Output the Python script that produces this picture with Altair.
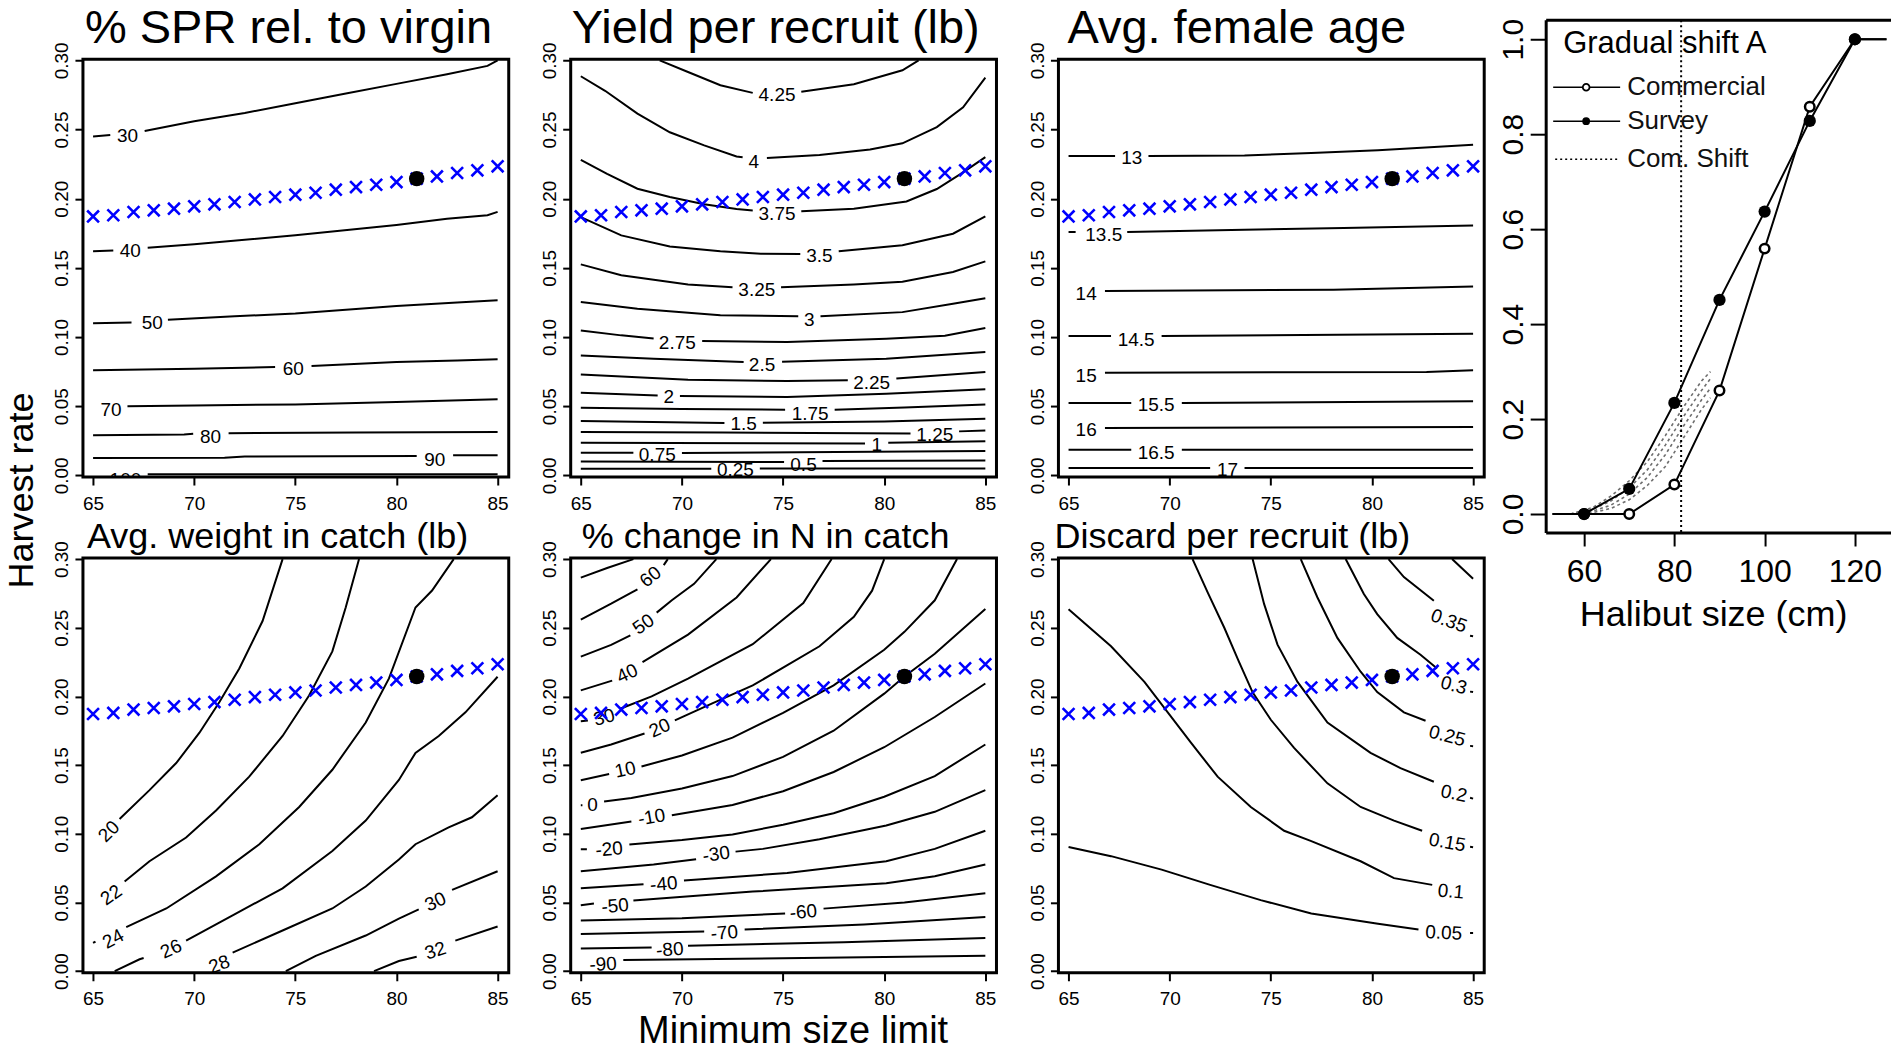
import altair as alt
import pandas as pd

FONT = "Liberation Sans"

# ---------------------------------------------------------------- shared data
PATH_SIZE = list(range(65, 86))
PATH_RATE = [0.1872, 0.1880, 0.1904, 0.1916, 0.1928, 0.1945, 0.1959, 0.1976,
             0.1995, 0.2012, 0.2029, 0.2043, 0.2065, 0.2084, 0.2101, 0.2120,
             0.2145, 0.2161, 0.2186, 0.2205, 0.2234]
STATUS_SIZE = [81]
STATUS_RATE = [0.2145]

X_TICKS = [65, 70, 75, 80, 85]
Y_TICKS = [0.0, 0.05, 0.10, 0.15, 0.20, 0.25, 0.30]

TITLES = ["% SPR rel. to virgin", "Yield per recruit (lb)", "Avg. female age",
          "Avg. weight in catch (lb)", "% change in N in catch", "Discard per recruit (lb)"]

# ---------------------------------------------------------------- contour lines (visible pieces)
SPR_LINES = {
    "30": [[(65, 0.245), (65.85, 0.246)],
           [(67.55, 0.249), (70, 0.256), (72.5, 0.262), (75, 0.269), (77.5, 0.276), (80, 0.283), (82.5, 0.290), (84.5, 0.296), (85, 0.300)]],
    "40": [[(65, 0.162), (66.0, 0.1625)],
           [(67.7, 0.1645), (70, 0.167), (75, 0.1735), (80, 0.181), (82.5, 0.1855), (84.5, 0.188), (85, 0.1905)]],
    "50": [[(65, 0.110), (66.9, 0.1105)],
           [(68.7, 0.1125), (72, 0.115), (75, 0.117), (80, 0.1225), (83, 0.125), (85, 0.1265)]],
    "60": [[(65, 0.076), (70, 0.077), (74.0, 0.0783)],
           [(75.8, 0.079), (80, 0.082), (83, 0.083), (85, 0.084)]],
    "70": [[(66.7, 0.0499), (70, 0.0505), (75, 0.0513), (80, 0.053), (85, 0.055)]],
    "80": [[(65, 0.029), (69.5, 0.0295), (69.95, 0.030)],
           [(71.7, 0.0305), (78, 0.031), (85, 0.0313)]],
    "90": [[(65, 0.0125), (71.5, 0.0128), (72.5, 0.0137), (81.0, 0.014)],
           [(82.8, 0.0145), (85, 0.0145)]],
    "100": [[(67.7, 0.0008), (85, 0.0008)]],
}
SPR_LABELS = [("30", 66.7, 0.245, 0), ("40", 66.84, 0.162, 0), ("50", 67.93, 0.110, 0),
              ("60", 74.9, 0.077, 0), ("70", 65.89, 0.0475, 0), ("80", 70.81, 0.0277, 0),
              ("90", 81.89, 0.0113, 0), ("100", 66.6, -0.003, 0)]

YIELD_LINES = {
    "4.25": [[(68.9, 0.30), (70.3, 0.2916), (71.9, 0.282), (73.5, 0.2765)],
             [(75.9, 0.2773), (78.5, 0.2827), (80.9, 0.2928), (81.7, 0.30)]],
    "4": [[(65, 0.2885), (66.2, 0.278), (67.8, 0.2615), (69.4, 0.248), (71.1, 0.2385), (72.7, 0.2305), (73.0, 0.230)],
          [(74.2, 0.2295), (76.8, 0.2315), (79.3, 0.2355), (80.9, 0.240), (82.6, 0.2518), (83.9, 0.266), (85, 0.2875)]],
    "3.75": [[(65, 0.228), (66.3, 0.218), (67.8, 0.2072), (69.4, 0.2012), (71.1, 0.196), (72.7, 0.1925), (73.5, 0.1915)],
             [(75.9, 0.191), (78.5, 0.1928), (81.1, 0.198), (82.6, 0.207), (83.9, 0.219), (85, 0.230)]],
    "3.5": [[(65, 0.1867), (67, 0.1735), (69.4, 0.1655), (71.9, 0.162), (73.9, 0.1602), (75.85, 0.160)],
            [(77.75, 0.162), (80.9, 0.1663), (83.4, 0.1747), (85, 0.1872)]],
    "3.25": [[(65, 0.1525), (67, 0.1446), (70.3, 0.138), (72.5, 0.136)],
             [(74.9, 0.136), (78.5, 0.138), (80.9, 0.140), (83.4, 0.147), (85, 0.1547)]],
    "3": [[(65, 0.1253), (67.8, 0.1205), (71.9, 0.1157), (75.75, 0.115)],
          [(76.85, 0.115), (80.9, 0.118), (83.4, 0.124), (85, 0.128)]],
    "2.75": [[(65, 0.1048), (67, 0.1012), (68.6, 0.099)],
             [(71.0, 0.0971), (75.2, 0.0964), (80.1, 0.0988), (83, 0.101), (85, 0.1065)]],
    "2.5": [[(65, 0.0867), (68.6, 0.0843), (73.05, 0.082)],
            [(74.95, 0.0822), (80.1, 0.0843), (85, 0.0892)]],
    "2.25": [[(65, 0.073), (70.3, 0.0692), (75.2, 0.0682), (78.2, 0.0688)],
             [(80.6, 0.070), (85, 0.0747)]],
    "2": [[(65, 0.0598), (68.8, 0.0578)],
          [(69.9, 0.0573), (75.2, 0.0566), (80.1, 0.059), (85, 0.0622)]],
    "1.75": [[(65, 0.0489), (70, 0.048), (75.1, 0.0475)],
             [(77.55, 0.0475), (81, 0.049), (85, 0.0513)]],
    "1.5": [[(65, 0.0393), (72.1, 0.0378)],
            [(74.0, 0.038), (80, 0.039), (85, 0.041)]],
    "1.25": [[(65, 0.0313), (72, 0.031), (81.3, 0.0303)],
             [(83.7, 0.0318), (85, 0.0325)]],
    "1": [[(65, 0.0236), (79.05, 0.023)],
          [(80.2, 0.0236), (85, 0.0246)]],
    "0.75": [[(65, 0.0164), (67.6, 0.0163)],
             [(70.0, 0.0161), (85, 0.0176)]],
    "0.5": [[(65, 0.0101), (75.05, 0.0097)],
            [(76.95, 0.0103), (85, 0.0108)]],
    "0.25": [[(65, 0.0048), (71.45, 0.0048)],
             [(73.85, 0.0049), (85, 0.0050)]],
}
YIELD_LABELS = [("4.25", 74.7, 0.2752, 0), ("4", 73.55, 0.2265, 0), ("3.75", 74.7, 0.1892, 0),
                ("3.5", 76.8, 0.1583, 0), ("3.25", 73.7, 0.1337, 0), ("3", 76.3, 0.1125, 0),
                ("2.75", 69.77, 0.0957, 0), ("2.5", 73.96, 0.0795, 0), ("2.25", 79.38, 0.067, 0),
                ("2", 69.35, 0.0566, 0), ("1.75", 76.34, 0.0446, 0), ("1.5", 73.05, 0.0369, 0),
                ("1.25", 82.5, 0.0289, 0), ("1", 79.63, 0.0217, 0), ("0.75", 68.78, 0.0145, 0),
                ("0.5", 76.01, 0.0077, 0), ("0.25", 72.64, 0.0036, 0)]

AGE_LINES = {
    "13": [[(65, 0.2308), (67.3, 0.2308)],
           [(68.95, 0.2308), (73.7, 0.2313), (77, 0.233), (80.3, 0.235), (85, 0.239)]],
    "13.5": [[(65, 0.1759), (65.35, 0.1759)],
             [(67.9, 0.1759), (73.7, 0.1776), (78.6, 0.1788), (85, 0.1807)]],
    "14": [[(66.8, 0.1333), (78.1, 0.1342), (85, 0.1366)]],
    "14.5": [[(65, 0.1007), (67.1, 0.1007)],
             [(69.6, 0.1007), (78.3, 0.1017), (85, 0.1024)]],
    "15": [[(66.8, 0.0742), (82.7, 0.0747), (85, 0.0759)]],
    "15.5": [[(65, 0.0523), (68.1, 0.0523)],
             [(70.6, 0.0523), (85, 0.0535)]],
    "16": [[(66.8, 0.0342), (85, 0.0349)]],
    "16.5": [[(65, 0.0186), (68.1, 0.0186)],
             [(70.6, 0.0186), (85, 0.0186)]],
    "17": [[(65, 0.0053), (72.0, 0.0053)],
           [(73.7, 0.0053), (85, 0.0053)]],
}
AGE_LABELS = [("13", 68.13, 0.2296, 0), ("13.5", 66.74, 0.174, 0), ("14", 65.87, 0.1313, 0),
              ("14.5", 68.34, 0.0976, 0), ("15", 65.87, 0.0716, 0), ("15.5", 69.33, 0.0506, 0),
              ("16", 65.87, 0.0325, 0), ("16.5", 69.33, 0.0161, 0), ("17", 72.86, 0.0041, 0)]

WEIGHT_LINES = {
    "20": [[(66.31, 0.1108), (67.79, 0.1318), (69.11, 0.1515), (70.26, 0.1736), (71.24, 0.1958),
            (72.23, 0.2204), (73.38, 0.2549), (74.37, 0.30)]],
    "22": [[(66.56, 0.0653), (67.79, 0.080), (69.6, 0.0973), (71.08, 0.117), (72.72, 0.1416),
            (74.37, 0.1712), (75.68, 0.2007), (76.83, 0.2328), (77.49, 0.2648), (78.15, 0.30)]],
    "24": [[(65, 0.0205), (65.12, 0.0215)],
           [(66.64, 0.032), (68.62, 0.0456), (71.08, 0.069), (73.22, 0.0924), (75.19, 0.1195),
            (76.83, 0.1466), (78.48, 0.181), (79.63, 0.2131), (80.94, 0.2648), (81.76, 0.2771), (82.83, 0.30)]],
    "26": [[(66.07, 0.0), (67.3, 0.0086), (67.5, 0.0095)],
           [(69.6, 0.0222), (71.9, 0.0406), (74.37, 0.0603), (76.83, 0.0874), (78.48, 0.1096),
            (80.12, 0.1392), (80.94, 0.1589), (82.09, 0.1712), (83.41, 0.1884), (85, 0.2143)]],
    "28": [[(71.9, 0.0135), (74.37, 0.0296), (76.83, 0.0456), (78.48, 0.0616), (80.12, 0.0813),
            (80.94, 0.0924), (82.58, 0.1047), (83.73, 0.112), (85, 0.128)]],
    "30": [[(74.53, 0.0), (76.01, 0.0111), (78.48, 0.0259), (80.12, 0.0382), (81.1, 0.045)],
           [(82.75, 0.0591), (85, 0.0727)]],
    "32": [[(78.89, 0.0), (80.12, 0.0074), (81.0, 0.0105)],
           [(82.91, 0.0222), (85, 0.0325)]],
}
WEIGHT_LABELS = [("20", 65.79, 0.1017, -45), ("22", 65.9, 0.0554, -35), ("24", 66.0, 0.0234, -28),
                 ("26", 68.86, 0.016, -25), ("28", 71.24, 0.0049, -20), ("30", 81.93, 0.0505, -25),
                 ("32", 81.93, 0.0148, -18)]

CHANGE_LINES = {
    "70": [[(65, 0.2865), (66.3, 0.2935), (67.6, 0.30)]],
    "60": [[(65, 0.256), (66.5, 0.2675), (67.5, 0.2756), (67.8, 0.278)],
           [(69.1, 0.2956), (69.3, 0.30)]],
    "50": [[(65, 0.229), (66.5, 0.2375), (67.45, 0.2445)],
           [(68.75, 0.261), (69.5, 0.27), (70.6, 0.282), (71.7, 0.30)]],
    "40": [[(65, 0.2044), (66.55, 0.2115)],
           [(68.05, 0.225), (70.3, 0.245), (72.7, 0.272), (74.4, 0.30)]],
    "30": [[(65, 0.182), (65.35, 0.1825)],
           [(66.95, 0.191), (68.5, 0.200), (70.3, 0.213), (73.5, 0.238), (76, 0.268), (77.4, 0.30)]],
    "20": [[(65, 0.159), (66.5, 0.165), (68.15, 0.173)],
           [(69.65, 0.1825), (71.5, 0.195), (73.5, 0.208), (76.8, 0.2365), (78.5, 0.258), (79.4, 0.277), (80.0, 0.30)]],
    "10": [[(65, 0.139), (66.4, 0.1435)],
           [(68.0, 0.149), (70, 0.157), (72.5, 0.170), (75, 0.188), (77.5, 0.208), (80, 0.234),
            (81, 0.247), (82.5, 0.270), (83.6, 0.30)]],
    "0": [[(65, 0.1207), (65.08, 0.1207)],
          [(66.15, 0.1235), (67.5, 0.126), (70, 0.133), (72.5, 0.142), (75, 0.156), (77.5, 0.175),
           (80, 0.202), (81, 0.2145), (82.5, 0.231), (85, 0.2637)]],
    "-10": [[(65, 0.1034), (67.5, 0.109)],
            [(69.5, 0.1135), (72.5, 0.121), (75, 0.131), (77.5, 0.145), (80, 0.163), (82.5, 0.185), (85, 0.2094)]],
    "-20": [[(65, 0.0887), (65.3, 0.0887)],
            [(67.4, 0.0922), (70, 0.0955), (72.5, 0.0995), (75, 0.1065), (77.5, 0.115), (80, 0.127),
             (82.5, 0.142), (85, 0.165)]],
    "-30": [[(65, 0.0727), (68.6, 0.0776), (70.7, 0.0815)],
            [(72.65, 0.087), (74, 0.089), (76.8, 0.096), (80.1, 0.106), (82.5, 0.116), (85, 0.1318)]],
    "-40": [[(65, 0.0603), (68.1, 0.0633)],
            [(70.1, 0.066), (75.2, 0.0714), (80.1, 0.080), (82.5, 0.089), (85, 0.1022)]],
    "-50": [[(65, 0.048), (65.65, 0.0492)],
            [(67.6, 0.0515), (73.5, 0.0579), (80.1, 0.064), (82.5, 0.069), (85, 0.0776)]],
    "-60": [[(65, 0.0369), (70, 0.0385), (75.1, 0.0419)],
            [(77.0, 0.0455), (81, 0.050), (85, 0.0567)]],
    "-70": [[(65, 0.0271), (71.1, 0.0288)],
            [(73.1, 0.0303), (79, 0.034), (85, 0.0394)]],
    "-80": [[(65, 0.0165), (68.5, 0.0172)],
            [(70.3, 0.0185), (78, 0.021), (85, 0.0241)]],
    "-90": [[(67.1, 0.0081), (76, 0.0095), (85, 0.0111)]],
}
CHANGE_LABELS = [("60", 68.45, 0.287, -40), ("50", 68.1, 0.2525, -35), ("40", 67.3, 0.2167, -25),
                 ("30", 66.15, 0.1847, -15), ("20", 68.9, 0.177, -25), ("10", 67.2, 0.1466, -12),
                 ("0", 65.58, 0.1207, 0), ("-10", 68.5, 0.112, -10), ("-20", 66.4, 0.0887, -5),
                 ("-30", 71.7, 0.085, -8), ("-40", 69.1, 0.0633, -5), ("-50", 66.7, 0.0473, -5),
                 ("-60", 76.0, 0.043, -5), ("-70", 72.1, 0.0278, -5), ("-80", 69.4, 0.0155, -4),
                 ("-90", 66.1, 0.0049, -3)]

DISCARD_LINES = {
    "0.05": [[(65, 0.0904), (67.1, 0.0837), (69.6, 0.0739), (72, 0.0628), (74.5, 0.0517), (77, 0.0419),
              (80.3, 0.0345), (82.3, 0.0303)],
             [(84.85, 0.0278), (85, 0.0278)]],
    "0.1": [[(65, 0.2635), (67.1, 0.2365), (68.75, 0.2106), (71.05, 0.1663), (72.37, 0.1416), (74.01, 0.1195),
             (75.66, 0.1022), (76.97, 0.0948), (79.44, 0.080), (81.09, 0.0677), (82.98, 0.0628)]],
    "0.15": [[(71.13, 0.30), (71.9, 0.275), (72.7, 0.25), (73.4, 0.226), (74.1, 0.203), (75.0, 0.183),
              (76.15, 0.1625), (77.8, 0.1367), (79.44, 0.1195), (81.09, 0.1096), (82.48, 0.1022)],
             [(84.85, 0.0905), (85, 0.0902)]],
    "0.2": [[(74.1, 0.30), (74.67, 0.2672), (75.33, 0.2377), (76.32, 0.2106), (77.8, 0.181), (79.93, 0.1589),
             (81.41, 0.1478), (83.06, 0.1379)],
            [(84.85, 0.1262), (85, 0.1256)]],
    "0.25": [[(76.48, 0.30), (77.3, 0.2722), (78.29, 0.2426), (79.44, 0.218), (80.26, 0.2032), (81.58, 0.1884),
              (82.65, 0.1823)],
             [(84.85, 0.164), (85, 0.1638)]],
    "0.3": [[(78.7, 0.30), (79.6, 0.2746), (80.26, 0.2599), (81.25, 0.2426), (82.4, 0.2303), (83.22, 0.2204)],
            [(84.85, 0.2035), (85, 0.2032)]],
    "0.35": [[(80.82, 0.30), (81.58, 0.2869), (83.06, 0.2697)],
             [(84.85, 0.2442), (85, 0.2438)]],
    "0.4": [[(83.96, 0.30), (85, 0.2857)]],
}
DISCARD_LABELS = [("0.05", 83.55, 0.0278, 3), ("0.1", 83.9, 0.0579, 5), ("0.15", 83.72, 0.0936, 10),
                  ("0.2", 84.05, 0.1293, 12), ("0.25", 83.72, 0.1712, 15), ("0.3", 84.05, 0.2081, 15),
                  ("0.35", 83.8, 0.2549, 20)]

# ---------------------------------------------------------------- selectivity panel
SEL_SIZE = [53, 60, 70, 80, 90, 100, 110, 120, 127]
COMMERCIAL = [0.0, 0.0, 0.0, 0.062, 0.26, 0.559, 0.858, 1.0, 1.0]
SURVEY = [0.0, 0.0, 0.053, 0.234, 0.451, 0.637, 0.828, 1.0, 1.0]
SHIFT_SIZE = [57, 62, 66, 70, 74, 78, 82, 86, 88]
SHIFT_CURVES = [
    [0.0, 0.014, 0.038, 0.07, 0.11, 0.165, 0.225, 0.28, 0.30],
    [0.0, 0.010, 0.028, 0.055, 0.093, 0.145, 0.205, 0.26, 0.285],
    [0.0, 0.006, 0.019, 0.042, 0.077, 0.125, 0.185, 0.24, 0.265],
    [0.0, 0.003, 0.012, 0.03, 0.06, 0.10, 0.16, 0.22, 0.245],
]
COM_SHIFT = [81.5]
SEL_X_TICKS = [60, 80, 100, 120]
SEL_Y_TICKS = [0.0, 0.2, 0.4, 0.6, 0.8, 1.0]
LEGEND_TITLE = "Gradual shift A"
LEGEND_LABELS = ["Commercial", "Survey", "Com. Shift"]

# ---------------------------------------------------------------- helpers
XSHAPE = "M-1,-1L1,1M-1,1L1,-1"
W = 426
XDOM = [64.5, 85.55]
YDOM = [-0.0012, 0.3008]
ONE = pd.DataFrame({"k": [0]})


def seg_frame(lines):
    rows = []
    for lvl, segs in lines.items():
        for k, seg in enumerate(segs):
            for i, (x, y) in enumerate(seg):
                rows.append({"seg": f"{lvl}_{k}", "i": i, "x": x, "y": y})
    return pd.DataFrame(rows)


def label_frame(labels):
    return pd.DataFrame([{"lab": l, "x": x, "y": y, "ang": a % 360} for l, x, y, a in labels])


path_df = pd.DataFrame({"x": PATH_SIZE, "y": PATH_RATE})
dot_df = pd.DataFrame({"x": STATUS_SIZE, "y": STATUS_RATE})


def contour_panel(lines, labels, title, tdx, top, ytitle=False, xtitle=False):
    H = 418 if top else 415
    tsize = 47 if top else 36
    ty = -16 if top else -10
    xkw = dict(values=X_TICKS, tickSize=8, labelFontSize=19, labelPadding=9)
    if xtitle:
        xkw.update(title="Minimum size limit", titleFontSize=38, titleX=222, titleY=70,
                   titleBaseline="alphabetic", titleAlign="center")
    else:
        xkw["title"] = None
    ykw = dict(values=Y_TICKS, format=".2f", labelAngle=270, labelAlign="center",
               labelBaseline="bottom", labelPadding=3, tickSize=8, labelFontSize=19)
    if ytitle:
        ykw.update(title="Harvest rate", titleFontSize=36, titleAngle=270, titleX=-50, titleY=431,
                   titleAlign="center", titleBaseline="alphabetic")
    else:
        ykw["title"] = None
    X = alt.X("x:Q", scale=alt.Scale(domain=XDOM, nice=False, zero=False), axis=alt.Axis(**xkw))
    Y = alt.Y("y:Q", scale=alt.Scale(domain=YDOM, nice=False, zero=False), axis=alt.Axis(**ykw))

    lns = alt.Chart(seg_frame(lines)).mark_line(clip=True, color="black", strokeWidth=2).encode(
        x=X, y=Y, detail="seg:N", order="i:Q")
    labs = alt.Chart(label_frame(labels)).mark_text(
        clip=True, font=FONT, fontSize=19, color="black", baseline="middle", align="center").encode(
        x=X, y=Y, text="lab:N", angle=alt.Angle("ang:Q", scale=None))
    crosses = alt.Chart(path_df).mark_point(shape=XSHAPE, size=140, filled=False, color="#0000ff",
                                            strokeWidth=2.6, opacity=1).encode(x=X, y=Y)
    dot = alt.Chart(dot_df).mark_point(shape="circle", size=240, filled=True, color="black",
                                       opacity=1).encode(x=X, y=Y)
    frame = alt.Chart(ONE).mark_rect(fillOpacity=0, stroke="black", strokeWidth=3).encode(
        x=alt.value(0), x2=alt.value(W), y=alt.value(0), y2=alt.value(H))
    ttl = alt.Chart(pd.DataFrame({"t": [title]})).mark_text(
        align="left", baseline="alphabetic", font=FONT, fontSize=tsize, color="black").encode(
        text="t:N", x=alt.value(tdx), y=alt.value(ty))
    return alt.layer(lns, labs, crosses, dot, frame, ttl).properties(width=W, height=H)


p1 = contour_panel(SPR_LINES, SPR_LABELS, TITLES[0], 2, True, ytitle=True)
p2 = contour_panel(YIELD_LINES, YIELD_LABELS, TITLES[1], 1, True)
p3 = contour_panel(AGE_LINES, AGE_LABELS, TITLES[2], 9, True)
p4 = contour_panel(WEIGHT_LINES, WEIGHT_LABELS, TITLES[3], 4, False)
p5 = contour_panel(CHANGE_LINES, CHANGE_LABELS, TITLES[4], 11, False, xtitle=True)
p6 = contour_panel(DISCARD_LINES, DISCARD_LABELS, TITLES[5], -4, False)

# ---------------------------------------------------------------- selectivity panel
RW = 345
RH = 418
TOP = -39
BOT = 474
RX = alt.X("x:Q", scale=alt.Scale(domain=[51.6, 128.0], nice=False, zero=False),
           axis=alt.Axis(values=SEL_X_TICKS, tickSize=13, labelFontSize=32, labelPadding=11, offset=56,
                         title="Halibut size (cm)", titleFontSize=36, titleX=167, titleY=93,
                         titleBaseline="alphabetic"))
RY = alt.Y("y:Q", scale=alt.Scale(domain=[-0.04, 1.04], range=[BOT, TOP], nice=False, zero=False),
           axis=alt.Axis(values=SEL_Y_TICKS, format=".1f", labelAngle=270, labelAlign="center",
                         labelBaseline="bottom", labelFontSize=30, tickSize=16, labelPadding=2, title=None))

shift_rows = []
for c, vals in enumerate(SHIFT_CURVES):
    for i, (x, y) in enumerate(zip(SHIFT_SIZE, vals)):
        shift_rows.append({"c": c, "i": i, "x": x, "y": y})
shift_df = pd.DataFrame(shift_rows)

sel_rows = []
for name, vals in (("Commercial", COMMERCIAL), ("Survey", SURVEY)):
    for i, (x, y) in enumerate(zip(SEL_SIZE, vals)):
        sel_rows.append({"s": name, "i": i, "x": x, "y": y})
sel_df = pd.DataFrame(sel_rows)
com_pts = pd.DataFrame({"x": SEL_SIZE[1:8], "y": COMMERCIAL[1:8]})
sur_pts = pd.DataFrame({"x": SEL_SIZE[1:8], "y": SURVEY[1:8]})

r_layers = [
    alt.Chart(shift_df).mark_line(color="#6e6e6e", strokeDash=[3, 3], strokeWidth=1.6).encode(
        x=RX, y=RY, detail="c:N", order="i:Q"),
    alt.Chart(sel_df).mark_line(color="black", strokeWidth=2).encode(x=RX, y=RY, detail="s:N", order="i:Q"),
    alt.Chart(com_pts).mark_point(shape="circle", size=90, filled=False, fill="white", color="black",
                                  strokeWidth=2.5, opacity=1).encode(x=RX, y=RY),
    alt.Chart(sur_pts).mark_point(shape="circle", size=150, filled=True, color="black", opacity=1).encode(
        x=RX, y=RY),
    alt.Chart(pd.DataFrame({"x": COM_SHIFT})).mark_rule(color="black", strokeDash=[2, 3], strokeWidth=2).encode(
        x=RX, y=alt.value(TOP), y2=alt.value(BOT)),
    # frame (left, top, bottom; the right edge lies past the page)
    alt.Chart(ONE).mark_rule(color="black", strokeWidth=3).encode(x=alt.value(0), y=alt.value(TOP), y2=alt.value(BOT)),
    alt.Chart(ONE).mark_rule(color="black", strokeWidth=3).encode(x=alt.value(0), x2=alt.value(RW), y=alt.value(TOP)),
    alt.Chart(ONE).mark_rule(color="black", strokeWidth=3).encode(x=alt.value(0), x2=alt.value(RW), y=alt.value(BOT)),
    # legend
    alt.Chart(pd.DataFrame({"t": [LEGEND_TITLE]})).mark_text(
        align="left", baseline="alphabetic", font=FONT, fontSize=31, color="black").encode(
        text="t:N", x=alt.value(17), y=alt.value(-6)),
]
for lab, ly in zip(LEGEND_LABELS, [28, 62, 100]):
    r_layers.append(alt.Chart(pd.DataFrame({"t": [lab]})).mark_text(
        align="left", baseline="middle", font=FONT, fontSize=26, color="#111111").encode(
        text="t:N", x=alt.value(81), y=alt.value(ly)))
r_layers += [
    alt.Chart(ONE).mark_rule(color="black", strokeWidth=1.6).encode(x=alt.value(7), x2=alt.value(74), y=alt.value(28)),
    alt.Chart(ONE).mark_rule(color="black", strokeWidth=1.6).encode(x=alt.value(7), x2=alt.value(74), y=alt.value(62)),
    alt.Chart(ONE).mark_rule(color="black", strokeWidth=1.6, strokeDash=[2, 3]).encode(
        x=alt.value(9), x2=alt.value(72), y=alt.value(100)),
    alt.Chart(ONE).mark_point(shape="circle", size=45, filled=False, fill="white", color="black",
                              strokeWidth=1.8, opacity=1).encode(x=alt.value(40), y=alt.value(28)),
    alt.Chart(ONE).mark_point(shape="circle", size=60, filled=True, color="black", opacity=1).encode(
        x=alt.value(40), y=alt.value(62)),
]
pR = alt.layer(*r_layers).properties(width=RW, height=RH)

chart = alt.concat(p1, p2, p3, pR, p4, p5, p6, columns=4, spacing={"row": 81, "column": 62},
                   bounds="flush", align="each").properties(
    padding={"left": 4, "top": 5, "right": 0, "bottom": 0}
).configure_view(strokeWidth=0).configure_axis(
    domain=False, grid=False, tickColor="black", tickWidth=2, labelColor="black", titleColor="black",
    labelFont=FONT, titleFont=FONT, titleFontWeight="normal", labelFlush=False, labelOverlap=False
)

chart.save("out.html", embed_options={"renderer": "svg", "actions": False})
